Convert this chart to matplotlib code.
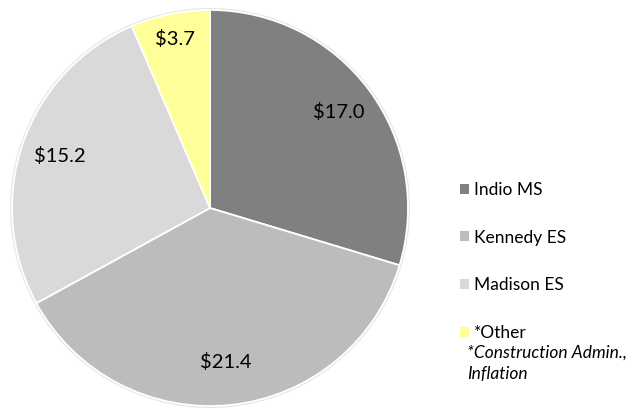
import matplotlib
matplotlib.use("Agg")
import matplotlib.pyplot as plt
import numpy as np
from matplotlib.patches import Patch, Circle

categories = ["Indio MS", "Kennedy ES", "Madison ES", "*Other"]
values = [17.0, 21.4, 15.2, 3.7]
value_labels = ["$17.0", "$21.4", "$15.2", "$3.7"]
colors = ["#808080", "#bcbcbc", "#d9d9d9", "#ffff99"]
label_dist = [0.81, 0.78, 0.80, 0.87]
footnote = "*Construction Admin.,\nInflation"

plt.rcParams['font.family'] = ['Lato', 'DejaVu Sans']

W, H = 634, 412
fig = plt.figure(figsize=(W/100, H/100), dpi=100)
cx, cy, r = 210, 208, 200
ax = fig.add_axes([(cx - r)/W, (H - cy - r)/H, 2*r/W, 2*r/H])

ax.add_patch(Circle((0, 0), 1.006, facecolor="none", edgecolor="#e6e6e6", lw=1.2, zorder=0))
wedges, _ = ax.pie(values, colors=colors, startangle=90, counterclock=False,
                   radius=1.0, wedgeprops=dict(edgecolor="white", linewidth=1.3))
for w, lab, d in zip(wedges, value_labels, label_dist):
    th = np.deg2rad((w.theta1 + w.theta2) / 2)
    ax.text(d*np.cos(th), d*np.sin(th), lab.replace("$", r"\$"), ha="center", va="center",
            fontsize=14.5, color="black")
ax.set_xlim(-1.01, 1.01)
ax.set_ylim(-1.01, 1.01)
ax.set_aspect("equal")
ax.axis("off")

handles = [Patch(facecolor=c, edgecolor="none") for c in colors]
leg = fig.legend(handles, categories, loc="upper left",
                 bbox_to_anchor=(453/W, 1 - 175/H), frameon=False,
                 fontsize=12.5, handlelength=0.5, handleheight=0.5,
                 handletextpad=0.3, labelspacing=1.82, borderaxespad=0)
fig.text(467/W, 1 - 363/H, footnote, ha="left", va="center", fontsize=12.5,
         style="italic", linespacing=1.4)
fig.savefig("out.png", dpi=100)
